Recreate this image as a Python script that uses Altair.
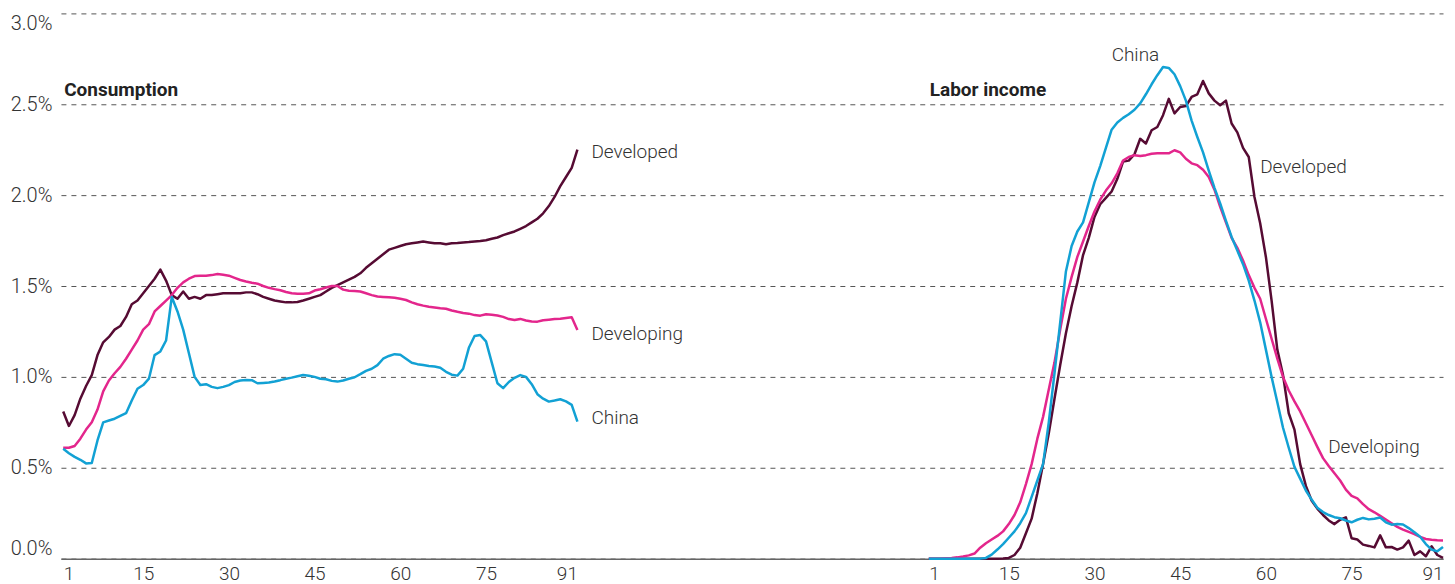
import altair as alt
import pandas as pd

# ---------------- data (percent of lifetime total, by age) ----------------
ages = list(range(1, 92))

cons_developed = [
    0.81, 0.73, 0.79, 0.88, 0.95, 1.01, 1.12, 1.19, 1.22, 1.26,
    1.28, 1.33, 1.40, 1.42, 1.46, 1.50, 1.54, 1.59, 1.53, 1.45,
    1.43, 1.47, 1.43, 1.44, 1.43, 1.45, 1.45, 1.455, 1.46, 1.46,
    1.46, 1.46, 1.465, 1.465, 1.455, 1.44, 1.43, 1.42, 1.415, 1.41,
    1.41, 1.412, 1.42, 1.43, 1.44, 1.45, 1.47, 1.49, 1.505, 1.52,
    1.535, 1.55, 1.57, 1.60, 1.625, 1.65, 1.675, 1.70, 1.71, 1.72,
    1.73, 1.735, 1.74, 1.745, 1.74, 1.735, 1.735, 1.73, 1.735, 1.737,
    1.74, 1.742, 1.745, 1.748, 1.752, 1.76, 1.767, 1.78, 1.79, 1.80,
    1.815, 1.83, 1.85, 1.87, 1.90, 1.94, 1.99, 2.05, 2.10, 2.15,
    2.25,
]
cons_developing = [
    0.61, 0.61, 0.62, 0.66, 0.71, 0.75, 0.82, 0.92, 0.98, 1.02,
    1.055, 1.10, 1.15, 1.20, 1.26, 1.29, 1.36, 1.39, 1.42, 1.45,
    1.49, 1.52, 1.54, 1.555, 1.557, 1.557, 1.56, 1.566, 1.562, 1.557,
    1.545, 1.533, 1.525, 1.518, 1.513, 1.50, 1.49, 1.483, 1.477, 1.467,
    1.46, 1.458, 1.457, 1.46, 1.475, 1.482, 1.492, 1.50, 1.50, 1.48,
    1.474, 1.473, 1.47, 1.46, 1.45, 1.442, 1.44, 1.438, 1.435, 1.43,
    1.423, 1.41, 1.40, 1.392, 1.386, 1.382, 1.378, 1.375, 1.365, 1.358,
    1.352, 1.348, 1.34, 1.337, 1.345, 1.342, 1.338, 1.33, 1.318, 1.313,
    1.319, 1.31, 1.305, 1.304, 1.312, 1.315, 1.318, 1.32, 1.324, 1.328,
    1.258,
]
cons_china = [
    0.604, 0.58, 0.56, 0.544, 0.524, 0.526, 0.65, 0.75, 0.76, 0.77,
    0.785, 0.80, 0.87, 0.935, 0.955, 0.99, 1.12, 1.14, 1.20, 1.44,
    1.36, 1.26, 1.13, 1.00, 0.955, 0.96, 0.945, 0.938, 0.945, 0.955,
    0.972, 0.98, 0.983, 0.982, 0.965, 0.967, 0.969, 0.975, 0.982, 0.99,
    0.996, 1.003, 1.01, 1.006, 1.00, 0.99, 0.987, 0.978, 0.974, 0.98,
    0.99, 0.998, 1.015, 1.033, 1.045, 1.065, 1.10, 1.115, 1.125, 1.122,
    1.10, 1.078, 1.07, 1.065, 1.06, 1.057, 1.05, 1.028, 1.012, 1.007,
    1.045, 1.16, 1.225, 1.23, 1.195, 1.08, 0.965, 0.938, 0.972, 0.995,
    1.01, 1.00, 0.96, 0.905, 0.88, 0.864, 0.87, 0.877, 0.865, 0.846,
    0.754,
]
labor_developed = [
    0.0, 0.0, 0.0, 0.0, 0.0, 0.0, 0.0, 0.0, 0.0, 0.0,
    0.0, 0.0, 0.0, 0.001, 0.004, 0.02, 0.06, 0.14, 0.22, 0.36,
    0.52, 0.69, 0.88, 1.065, 1.24, 1.39, 1.52, 1.67, 1.765, 1.88,
    1.95, 1.985, 2.02, 2.09, 2.185, 2.19, 2.225, 2.31, 2.284, 2.357,
    2.375, 2.44, 2.53, 2.45, 2.485, 2.49, 2.54, 2.555, 2.628, 2.56,
    2.52, 2.495, 2.52, 2.394, 2.345, 2.26, 2.21, 1.99, 1.845, 1.66,
    1.42, 1.15, 1.01, 0.80, 0.71, 0.52, 0.40, 0.32, 0.275, 0.24,
    0.21, 0.19, 0.214, 0.227, 0.112, 0.105, 0.077, 0.07, 0.062, 0.128,
    0.062, 0.064, 0.05, 0.062, 0.099, 0.02, 0.04, 0.013, 0.068, 0.02,
    0.004,
]
labor_developing = [
    0.0, 0.0, 0.0, 0.002, 0.004, 0.007, 0.012, 0.018, 0.028, 0.06,
    0.085, 0.105, 0.125, 0.15, 0.19, 0.24, 0.31, 0.41, 0.52, 0.66,
    0.78, 0.93, 1.08, 1.26, 1.43, 1.55, 1.66, 1.745, 1.83, 1.91,
    1.975, 2.025, 2.065, 2.12, 2.19, 2.21, 2.22, 2.215, 2.22, 2.228,
    2.23, 2.23, 2.23, 2.247, 2.235, 2.20, 2.175, 2.165, 2.14, 2.10,
    2.03, 1.936, 1.85, 1.765, 1.71, 1.64, 1.56, 1.49, 1.43, 1.32,
    1.21, 1.10, 1.00, 0.925, 0.865, 0.81, 0.745, 0.68, 0.615, 0.553,
    0.51, 0.47, 0.43, 0.38, 0.345, 0.332, 0.30, 0.272, 0.255, 0.235,
    0.215, 0.195, 0.175, 0.16, 0.147, 0.135, 0.12, 0.108, 0.104, 0.101,
    0.10,
]
labor_china = [
    0.0, 0.0, 0.0, 0.0, 0.0, 0.0, 0.0, 0.0, 0.0, 0.0,
    0.004, 0.022, 0.05, 0.08, 0.115, 0.15, 0.195, 0.25, 0.34, 0.43,
    0.52, 0.75, 1.02, 1.30, 1.58, 1.72, 1.80, 1.85, 1.96, 2.07,
    2.16, 2.26, 2.36, 2.40, 2.425, 2.445, 2.47, 2.505, 2.555, 2.61,
    2.66, 2.705, 2.70, 2.665, 2.60, 2.52, 2.41, 2.32, 2.235, 2.135,
    2.04, 1.954, 1.86, 1.77, 1.695, 1.62, 1.53, 1.42, 1.30, 1.15,
    1.00, 0.86, 0.72, 0.61, 0.505, 0.44, 0.375, 0.325, 0.28, 0.256,
    0.24, 0.228, 0.222, 0.21, 0.20, 0.214, 0.224, 0.216, 0.22, 0.226,
    0.20, 0.187, 0.19, 0.188, 0.168, 0.145, 0.12, 0.08, 0.05, 0.04,
    0.064,
]

series_names = ["Developed", "Developing", "China"]
series_colors = ["#560b33", "#e3268c", "#12a1d4"]
panel_titles = ["Consumption", "Labor income"]
x_tick_values = [1, 15, 30, 45, 60, 75, 91]
y_tick_values = [0.0, 0.5, 1.0, 1.5, 2.0, 2.5, 3.0]

# annotation anchors (panel, text, age, value)
line_labels = [
    ("Consumption", "Developed", 93.45, 2.236),
    ("Consumption", "Developing", 93.45, 1.236),
    ("Consumption", "China", 93.45, 0.775),
    ("Labor income", "China", 33.0, 2.77),
    ("Labor income", "Developed", 59.0, 2.154),
    ("Labor income", "Developing", 70.9, 0.615),
]
title_anchor = (1.17, 2.577)

# ---------------- layout: second panel shifted along one shared x scale --------
PANEL_SHIFT = {"Consumption": 0.0, "Labor income": 151.5}
X_DOMAIN = [0.6, 91 + 151.5]

series_by_panel = {
    "Consumption": dict(zip(series_names, [cons_developed, cons_developing, cons_china])),
    "Labor income": dict(zip(series_names, [labor_developed, labor_developing, labor_china])),
}
rows = []
for panel, sdict in series_by_panel.items():
    for s, vals in sdict.items():
        for a, v in zip(ages, vals):
            rows.append({"panel": panel, "series": s, "age": a,
                         "xpos": a + PANEL_SHIFT[panel], "value": v})
df = pd.DataFrame(rows)

lab_df = pd.DataFrame([
    {"panel": p, "label": t, "xpos": a + PANEL_SHIFT[p], "value": v}
    for p, t, a, v in line_labels
])
title_df = pd.DataFrame([
    {"label": p, "xpos": title_anchor[0] + PANEL_SHIFT[p], "value": title_anchor[1]}
    for p in panel_titles
])

tick_vals = [v + PANEL_SHIFT[p] for p in panel_titles for v in x_tick_values]
right_shift = PANEL_SHIFT["Labor income"]
first_vals = [x_tick_values[0] + PANEL_SHIFT[p] for p in panel_titles]
last_vals = [x_tick_values[-1] + PANEL_SHIFT[p] for p in panel_titles]

FONT = "Roboto"
TEXT_COLOR = "#333333"

x_scale = alt.Scale(domain=X_DOMAIN, nice=False, zero=False)
y_scale = alt.Scale(domain=[0, 3], nice=False)

x_axis = alt.Axis(
    values=tick_vals,
    labelExpr=f"datum.value > 120 ? format(datum.value - {right_shift}, 'd') : format(datum.value, 'd')",
    title=None, grid=False, ticks=False, domain=True,
    domainColor="#666666", domainWidth=1.5,
    labelPadding=6, labelFontSize=19,
    labelAlign={
        "condition": [
            {"test": " || ".join(f"datum.value == {v}" for v in first_vals), "value": "left"},
            {"test": " || ".join(f"datum.value == {v}" for v in last_vals), "value": "right"},
        ],
        "value": "center",
    },
)
y_axis = alt.Axis(
    values=y_tick_values,
    labelExpr="format(datum.value, '.1f') + '%'",
    title=None, grid=True, gridDash=[5, 5], gridColor="#555555", gridWidth=1,
    domain=False, ticks=False, labelFlush=True, labelPadding=9, labelFontSize=20,
    minExtent=53, maxExtent=53,
)

X = alt.X("xpos:Q", scale=x_scale, axis=x_axis)
Y = alt.Y("value:Q", scale=y_scale, axis=y_axis)

lines = alt.Chart(df).mark_line(strokeWidth=2.5, strokeJoin="round").encode(
    x=X, y=Y,
    color=alt.Color("series:N", scale=alt.Scale(domain=series_names, range=series_colors), legend=None),
    detail="panel:N",
)

labels = alt.Chart(lab_df).mark_text(
    align="left", baseline="middle", font=FONT, fontSize=19, fontWeight=300, color=TEXT_COLOR
).encode(x=X, y=Y, text="label:N")

titles = alt.Chart(title_df).mark_text(
    align="left", baseline="middle", font=FONT, fontSize=19, fontWeight="bold", color="#222222"
).encode(x=X, y=Y, text="label:N")

chart = alt.layer(lines, labels, titles).properties(
    width=1384, height=546,
    padding={"left": 0, "top": 5, "right": 2, "bottom": 0},
    background="white",
).configure_view(stroke=None).configure_axis(
    labelFont=FONT, labelFontWeight=300, labelColor=TEXT_COLOR,
)

chart.save("out.html", embed_options={"renderer": "svg", "actions": False})
